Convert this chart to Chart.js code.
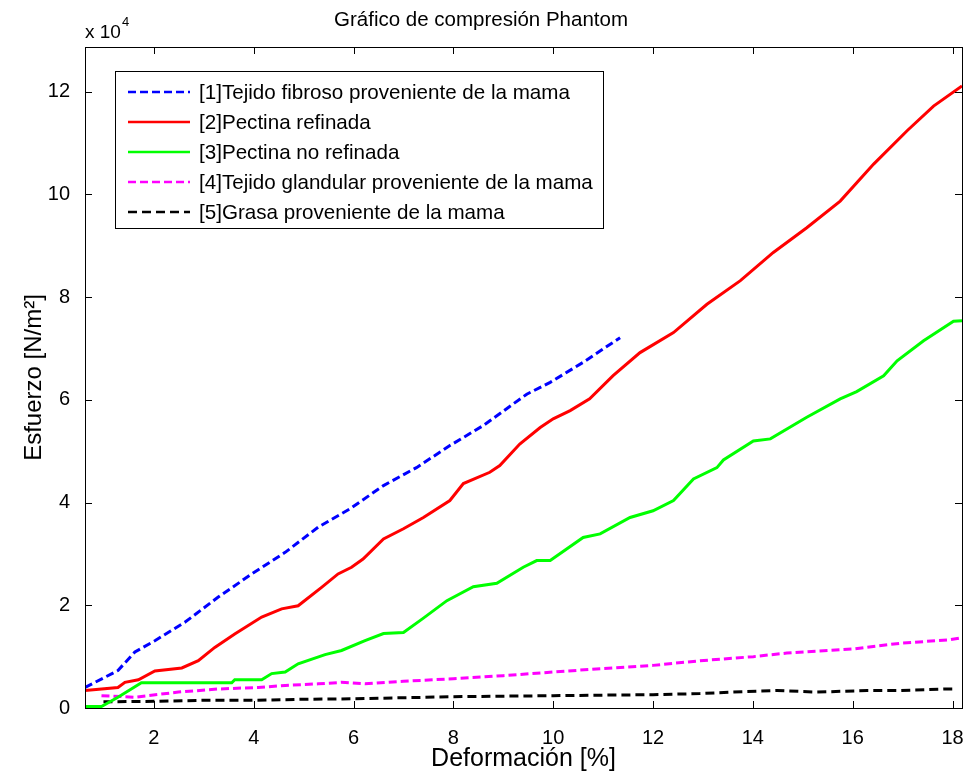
<!DOCTYPE html>
<html>
<head>
<meta charset="utf-8">
<script src="https://cdn.jsdelivr.net/npm/chart.js@4.4.1/dist/chart.umd.min.js"></script>
<style>
  body { margin: 0; background: #fff; }
</style>
</head>
<body>
<canvas id="myChart" width="968" height="774"></canvas>
<script>
// deformation [%] and stress [x10^4 N/m^2]
var blueX = [0.62,1.28,1.62,2.02,2.62,3.29,3.96,4.63,5.29,5.93,6.60,7.26,7.93,8.60,9.47,9.94,10.60,11.00,11.34];
var blueY = [0.40,0.73,1.09,1.31,1.67,2.16,2.61,3.03,3.52,3.88,4.33,4.68,5.11,5.50,6.11,6.34,6.73,6.99,7.21];

var redX = [0.62,1.28,1.42,1.69,2.02,2.56,2.89,3.22,3.62,4.16,4.56,4.89,5.36,5.69,5.96,6.19,6.60,7.00,7.40,7.93,8.20,8.73,8.93,9.33,9.74,10.00,10.34,10.73,11.20,11.74,12.41,13.08,13.75,14.41,15.08,15.75,16.42,17.09,17.62,18.19];
var redY = [0.34,0.40,0.50,0.55,0.72,0.78,0.92,1.18,1.44,1.77,1.93,1.99,2.35,2.61,2.74,2.90,3.29,3.49,3.71,4.04,4.37,4.59,4.72,5.14,5.46,5.63,5.79,6.02,6.47,6.92,7.31,7.86,8.32,8.87,9.35,9.87,10.59,11.24,11.72,12.11];

var greenX = [0.62,0.95,1.28,1.75,3.56,3.62,4.16,4.36,4.63,4.89,5.43,5.76,6.23,6.60,7.00,7.40,7.87,8.40,8.87,9.40,9.67,9.94,10.60,10.94,11.54,12.00,12.41,12.81,13.28,13.41,14.01,14.35,15.08,15.75,16.08,16.62,16.89,17.42,18.02,18.19];
var greenY = [0.03,0.03,0.21,0.49,0.49,0.55,0.55,0.67,0.70,0.86,1.04,1.12,1.31,1.45,1.47,1.75,2.09,2.36,2.43,2.74,2.87,2.87,3.32,3.39,3.71,3.84,4.04,4.46,4.68,4.83,5.20,5.24,5.66,6.02,6.16,6.47,6.76,7.15,7.53,7.54];

var magentaX = [0.95,1.62,2.49,3.29,4.09,4.63,5.29,5.76,6.23,7.00,8.00,9.00,10.00,11.00,12.00,12.94,14.01,14.68,16.01,16.95,17.95,18.19];
var magentaY = [0.24,0.21,0.31,0.37,0.40,0.44,0.47,0.50,0.47,0.52,0.57,0.63,0.70,0.77,0.83,0.92,1.00,1.07,1.15,1.26,1.33,1.37];

var blackX = [0.99,2.00,3.00,4.00,5.00,6.00,8.00,10.00,12.00,12.94,13.60,14.48,15.28,16.29,16.95,17.89,18.02];
var blackY = [0.12,0.13,0.15,0.15,0.17,0.18,0.22,0.24,0.26,0.28,0.31,0.34,0.31,0.34,0.34,0.37,0.37];

var xTicks = [2,4,6,8,10,12,14,16,18];
var yTicks = [0,2,4,6,8,10,12];

var labels = [
  '[1]Tejido fibroso proveniente de la mama',
  '[2]Pectina refinada',
  '[3]Pectina no refinada',
  '[4]Tejido glandular proveniente de la mama',
  '[5]Grasa proveniente de la mama'
];

function pts(xs, ys) {
  var out = [];
  for (var i = 0; i < xs.length; i++) out.push({x: xs[i], y: ys[i]});
  return out;
}

var FONT = "'Liberation Sans', Arial, sans-serif";
Chart.defaults.font.family = FONT;
Chart.defaults.color = '#000';

// box, inward ticks, exponent and legend, drawn the MATLAB way
var matlabLook = {
  id: 'matlabLook',
  afterDraw: function(chart) {
    var c = chart.ctx, a = chart.chartArea;
    var sx = chart.scales.x, sy = chart.scales.y;
    c.save();
    c.strokeStyle = '#000';
    c.lineWidth = 1;
    c.strokeRect(Math.round(a.left) + 0.5, Math.round(a.top) + 0.5,
                 Math.round(a.right - a.left), Math.round(a.bottom - a.top));
    c.beginPath();
    xTicks.forEach(function(v) {
      var p = Math.round(sx.getPixelForValue(v)) + 0.5;
      c.moveTo(p, a.bottom); c.lineTo(p, a.bottom - 7);
      c.moveTo(p, a.top); c.lineTo(p, a.top + 7);
    });
    yTicks.forEach(function(v) {
      var p = Math.round(sy.getPixelForValue(v)) + 0.5;
      c.moveTo(a.left, p); c.lineTo(a.left + 7, p);
      c.moveTo(a.right, p); c.lineTo(a.right - 7, p);
    });
    c.stroke();

    // x 10^4
    c.fillStyle = '#000';
    c.textBaseline = 'alphabetic';
    c.textAlign = 'left';
    c.font = '19px ' + FONT;
    c.fillText('x 10', 85, 38);
    c.font = '13px ' + FONT;
    c.fillText('4', 122, 26);

    // legend
    var lx = 115.5, ly = 71.5, lw = 488, lh = 157;
    c.fillStyle = '#fff';
    c.fillRect(lx, ly, lw, lh);
    c.strokeRect(lx, ly, lw, lh);
    c.font = '20.6px ' + FONT;
    c.textBaseline = 'middle';
    chart.data.datasets.forEach(function(ds, i) {
      var y = 92 + i * 30;
      c.strokeStyle = ds.borderColor;
      c.lineWidth = 2.5;
      c.setLineDash(ds.borderDash || []);
      c.beginPath();
      c.moveTo(128, y); c.lineTo(190, y);
      c.stroke();
      c.setLineDash([]);
      c.fillStyle = '#000';
      c.fillText(ds.label, 199, y + 1);
    });
    c.restore();
  }
};

var ctx = document.getElementById('myChart').getContext('2d');
var myChart = new Chart(ctx, {
  type: 'line',
  data: {
    datasets: [
      { label: labels[0], data: pts(blueX, blueY), borderColor: '#0000ff', borderWidth: 3, borderDash: [8, 4] },
      { label: labels[1], data: pts(redX, redY), borderColor: '#ff0000', borderWidth: 3 },
      { label: labels[2], data: pts(greenX, greenY), borderColor: '#00ff00', borderWidth: 3 },
      { label: labels[3], data: pts(magentaX, magentaY), borderColor: '#ff00ff', borderWidth: 3, borderDash: [8, 4] },
      { label: labels[4], data: pts(blackX, blackY), borderColor: '#000000', borderWidth: 3, borderDash: [9, 5] }
    ]
  },
  options: {
    responsive: false,
    animation: false,
    layout: { padding: { top: 0, left: 0, right: 6, bottom: 0 } },
    elements: { point: { radius: 0 }, line: { tension: 0 } },
    plugins: {
      legend: { display: false },
      tooltip: { enabled: false },
      title: {
        display: true,
        text: 'Gráfico de compresión Phantom',
        font: { size: 20.5, weight: 'normal' },
        padding: { top: 8, bottom: 14.4 }
      }
    },
    scales: {
      x: {
        type: 'linear',
        min: 0.62,
        max: 18.19,
        grid: { display: false },
        border: { display: false },
        ticks: { font: { size: 20 }, padding: 10 },
        afterBuildTicks: function(s) { s.ticks = xTicks.map(function(v) { return {value: v}; }); },
        afterFit: function(s) { s.height = 66; s.paddingLeft = 0; s.paddingRight = 0; },
        title: { display: true, text: 'Deformación [%]', font: { size: 25 }, padding: { top: 0, bottom: 0 } }
      },
      y: {
        type: 'linear',
        min: 0,
        max: 12.87,
        grid: { display: false },
        border: { display: false },
        ticks: { font: { size: 20 }, padding: 7 },
        afterBuildTicks: function(s) { s.ticks = yTicks.map(function(v) { return {value: v}; }); },
        afterFit: function(s) { s.width = 85; s.paddingTop = 0; s.paddingBottom = 0; },
        title: { display: true, text: 'Esfuerzo [N/m²]', font: { size: 24 }, padding: { top: 20, bottom: 0 } }
      }
    }
  },
  plugins: [matlabLook]
});
</script>
</body>
</html>
